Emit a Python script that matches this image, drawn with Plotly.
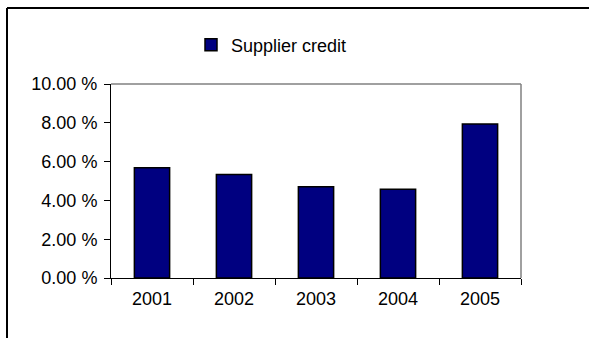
import plotly.graph_objects as go

# Supplier credit share by year
years = ["2001", "2002", "2003", "2004", "2005"]
supplier_credit = [5.68, 5.33, 4.70, 4.58, 7.94]
y_ticks = [0, 2, 4, 6, 8, 10]
y_tick_labels = ["0.00 %", "2.00 %", "4.00 %", "6.00 %", "8.00 %", "10.00 %"]

W, H = 589, 338
ML, MR, MT, MB = 111, 68, 84, 60
PW, PH = W - ML - MR, H - MT - MB


def px_x(p):
    return (p - ML) / PW


def px_y(p):
    return (H - MB - p) / PH


font = dict(family="Liberation Sans, Arial, sans-serif", size=18, color="black")

fig = go.Figure(
    go.Bar(
        x=years,
        y=supplier_credit,
        name="Supplier credit",
        marker=dict(color="#000080", line=dict(color="black", width=1.5)),
    )
)

fig.update_layout(
    width=W,
    height=H,
    margin=dict(l=ML, r=MR, t=MT, b=MB),
    paper_bgcolor="white",
    plot_bgcolor="white",
    bargap=0.57,
    font=font,
    showlegend=True,
    legend=dict(
        orientation="h",
        x=px_x(191),
        y=px_y(45),
        xanchor="left",
        yanchor="middle",
        font=font,
        itemwidth=30,
        bgcolor="rgba(0,0,0,0)",
    ),
    shapes=[
        # outer chart frame (top and left edges)
        dict(type="line", xref="paper", yref="paper",
             x0=px_x(7), x1=px_x(W + 2), y0=px_y(8), y1=px_y(8),
             line=dict(color="black", width=2)),
        dict(type="line", xref="paper", yref="paper",
             x0=px_x(7), x1=px_x(7), y0=px_y(8), y1=px_y(H + 2),
             line=dict(color="black", width=2)),
        # plot area border, top and right
        dict(type="line", xref="paper", yref="paper",
             x0=0, x1=1, y0=1, y1=1, line=dict(color="#808080", width=1.5)),
        dict(type="line", xref="paper", yref="paper",
             x0=1, x1=1, y0=0, y1=1, line=dict(color="#808080", width=1.5)),
    ],
)

fig.update_xaxes(
    type="category",
    showline=True,
    linecolor="black",
    linewidth=1,
    ticks="outside",
    tickson="boundaries",
    ticklen=6,
    tickcolor="black",
    showgrid=False,
    tickfont=font,
    ticklabelstandoff=4,
)

fig.update_yaxes(
    range=[0, 10],
    tickvals=y_ticks,
    ticktext=y_tick_labels,
    showline=True,
    linecolor="black",
    linewidth=1,
    ticks="outside",
    ticklen=6,
    tickcolor="black",
    showgrid=False,
    zeroline=False,
    tickfont=font,
    ticklabelstandoff=3,
)

fig.write_html("out.html")
